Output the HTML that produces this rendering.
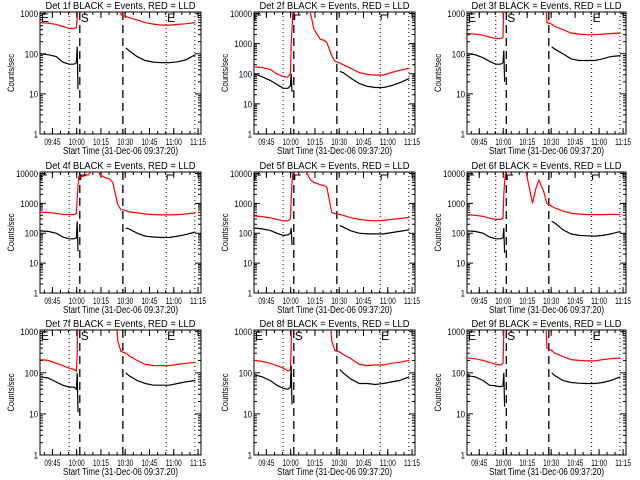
<!DOCTYPE html>
<html><head><meta charset="utf-8"><style>
html,body{margin:0;padding:0;background:#fff;}
svg{display:block;font-family:"Liberation Sans",sans-serif;}
</style></head><body>
<svg id="c" width="640" height="480" viewBox="0 0 640 480"></svg>
<script>
const times = [0,5,10,14,18,21,22.5,23,23.5,24,26,30,35,37,41,43,45,48,50,53,55,60,65,70,75,80,85,90,96];
const xTickLabels = ["09:45","10:00","10:15","10:30","10:45","11:00","11:15"];
const xTickTimes = [7.67,22.67,37.67,52.67,67.67,82.67,97.67];
const markerTimes = [18,24.6,51.2,78,95.7];
const detNames = ["1f","2f","3f","4f","5f","6f","7f","8f","9f"];
const topDecades = [3,4,3,4,4,4,3,3,3];
const N = null, H = 5e4;
const red1 = [600,580,540,480,430,430,450,800,3000,5000,H,H,H,H,H,H,H,H,950,850,800,700,600,550,520,520,540,560,600];
const blk1 = [100,95,85,62,55,55,60,150,13,N,N,N,N,N,N,N,N,N,N,140,120,85,68,62,60,60,63,70,95];
const red2 = [170,160,140,100,80,78,100,1000,3000,10000,H,H,10000,3000,1400,1300,1100,400,260,230,200,150,110,95,90,90,110,130,150];
const blk2 = [100,80,60,45,33,33,40,100,25,N,N,N,N,N,N,N,N,N,N,120,110,70,48,38,35,35,40,50,70];
const red3 = [320,310,290,260,240,240,260,2000,H,H,H,H,H,H,H,H,H,H,600,550,480,400,330,310,300,300,310,320,330];
const blk3 = [100,95,80,65,55,55,60,120,20,N,N,N,N,N,N,N,N,N,N,150,130,100,75,68,68,68,75,85,90];
const red4 = [500,500,460,430,420,420,460,1500,4000,8000,8000,9000,20000,9000,7000,6500,5000,900,620,580,520,480,440,420,410,410,420,440,480];
const blk4 = [120,115,100,75,65,65,70,250,25,N,N,N,N,N,N,N,N,N,N,150,140,100,80,75,72,72,80,90,110];
const red5 = [380,360,330,290,260,260,300,1500,5000,10000,20000,20000,6000,5000,4200,4000,3500,500,450,430,400,330,290,270,260,270,290,310,340];
const blk5 = [150,140,125,100,85,88,100,150,40,N,N,N,N,N,N,N,N,N,N,180,160,120,100,95,95,95,105,115,130];
const red6 = [420,400,370,320,290,290,320,2000,5000,10000,12000,12000,12000,11000,1000,3000,6000,2500,1000,800,700,550,470,440,420,420,420,430,420];
const blk6 = [120,115,100,75,65,65,70,150,22,N,N,N,N,N,N,N,N,N,N,250,220,130,95,85,82,80,85,95,115];
const red7 = [210,200,170,150,130,120,110,300,H,H,H,H,H,H,H,H,H,600,330,300,260,200,160,150,150,150,160,170,180];
const blk7 = [80,75,60,50,45,45,40,100,11,N,N,N,N,N,N,N,N,N,N,100,85,65,55,50,50,50,55,60,65];
const red8 = [200,190,170,150,130,110,120,400,H,H,H,H,H,H,H,H,H,600,350,320,280,220,160,150,155,155,170,180,200];
const blk8 = [90,80,65,50,42,40,45,150,17,N,N,N,N,N,N,N,N,N,N,120,100,70,55,55,52,55,60,65,80];
const red9 = [230,220,200,180,160,155,170,1000,H,H,H,H,H,H,H,H,H,H,400,350,300,250,210,200,195,195,210,220,230];
const blk9 = [85,80,65,50,48,46,48,100,15,N,N,N,N,N,N,N,N,N,N,100,85,65,58,56,55,55,58,65,80];
const redSeries = [red1,red2,red3,red4,red5,red6,red7,red8,red9];
const blackSeries = [blk1,blk2,blk3,blk4,blk5,blk6,blk7,blk8,blk9];

const NS = "http://www.w3.org/2000/svg";
const svg = document.getElementById('c');
const colLeft=[40,254,467], colRight=[201,415,626], rowTop=[12,172,330], rowBottom=[134,293,455];
const XMAX = 99.5;
function mk(tag, attrs, parent){const e=document.createElementNS(NS,tag);for(const k in attrs)e.setAttribute(k,attrs[k]);(parent||svg).appendChild(e);return e;}

for(let p=0;p<9;p++){
  const r=Math.floor(p/3), c=p%3;
  const L=colLeft[c], R=colRight[c], T=rowTop[r], B=rowBottom[r];
  const dec=topDecades[p];
  const lmax=dec+(dec===3?0.042:0.05);
  const g=mk('g',{});
  
  
  const xs=t=>L+(R-L)*t/XMAX;
  const ys=v=>B-(B-T)*Math.log10(v)/lmax;
  const clip=mk('clipPath',{id:'cp'+p},g);
  mk('rect',{x:L,y:T,width:R-L,height:B-T},clip);
  const ti=mk('text',{x:(L+R)/2,y:T-3,'font-size':'10','text-anchor':'middle',fill:'#000',textLength:150,lengthAdjust:'spacingAndGlyphs'},g);
  ti.textContent='Det '+detNames[p]+' BLACK = Events, RED = LLD';
  
  
  const fr=mk('rect',{x:L,y:T,width:R-L,height:B-T,fill:'none',stroke:'#000','stroke-width':1},g);
  
  
  for(let d=0;d<=dec;d++){
    const y=ys(Math.pow(10,d));
    mk('line',{x1:L,x2:L+6,y1:y,y2:y,stroke:'#000'},g);
    mk('line',{x1:R,x2:R-6,y1:y,y2:y,stroke:'#000'},g);
    const s=String(Math.pow(10,d));
    const tl=mk('text',{x:L-2,y:y+3.5,'font-size':'9','text-anchor':'end',textLength:4.4*s.length,lengthAdjust:'spacingAndGlyphs'},g);
    tl.textContent=s;
    
    
    if(d<dec){for(let m=2;m<10;m++){const ym=ys(m*Math.pow(10,d));
      mk('line',{x1:L,x2:L+3,y1:ym,y2:ym,stroke:'#000'},g);
      mk('line',{x1:R,x2:R-3,y1:ym,y2:ym,stroke:'#000'},g);}}
  }
  for(let i=0;i<xTickTimes.length;i++){
    const x=xs(xTickTimes[i]);
    mk('line',{x1:x,x2:x,y1:B,y2:B-6,stroke:'#000'},g);
    mk('line',{x1:x,x2:x,y1:T,y2:T+6,stroke:'#000'},g);
    const xl=mk('text',{x:x,y:B+11,'font-size':'9','text-anchor':'middle',textLength:16,lengthAdjust:'spacingAndGlyphs'},g);
    xl.textContent=xTickLabels[i];
    
    
  }
  for(let t=2.67;t<XMAX;t+=5){const x=xs(t);
    mk('line',{x1:x,x2:x,y1:B,y2:B-3,stroke:'#000'},g);
    mk('line',{x1:x,x2:x,y1:T,y2:T+3,stroke:'#000'},g);}
  const xt=mk('text',{x:(L+R)/2,y:B+20,'font-size':'10','text-anchor':'middle',textLength:115,lengthAdjust:'spacingAndGlyphs'},g);
  xt.textContent='Start Time (31-Dec-06 09:37:20)';
  
  
  const yt=mk('text',{x:0,y:0,'font-size':'9','text-anchor':'middle',textLength:38,lengthAdjust:'spacingAndGlyphs',transform:'translate('+(L-26)+','+((T+B)/2)+') rotate(-90)'},g);
  yt.textContent='Counts/sec';
  
  
  markerTimes.forEach((t,i)=>{
    const x=xs(t);const dashed=(i===1||i===2);
    const ml=mk('line',{x1:x,x2:x,y1:T,y2:B,stroke:'#000','stroke-width':dashed?1.3:1,'stroke-dasharray':dashed?'8,5':'1,3'},g);
    
    
  });
  const labs=[[0.6,'E'],[markerTimes[1]+0.6,'S'],[markerTimes[3]+0.6,'E']];
  labs.forEach(([t,s])=>{
    const x=xs(t);
    if(dec===3){const m=mk('text',{x:x,y:T+10,'font-size':'12',fill:'#000'},g);m.textContent=s;
      
      }
    else{const m=mk('path',{d:'M'+(x+6)+','+(T+3)+' H'+x+' V'+(T+8),fill:'none',stroke:'#000'},g);
      
      }
  });
  function path(arr){let d='',pen=false;
    for(let i=0;i<times.length;i++){const v=arr[i];
      if(v===null){pen=false;continue;}
      d+=(pen?'L':'M')+xs(times[i]).toFixed(1)+','+ys(v).toFixed(1)+' ';pen=true;}
    return d;}
  const rp=mk('path',{d:path(redSeries[p]),fill:'none',stroke:'#ff0000','stroke-width':1.2,'clip-path':'url(#cp'+p+')'},g);
  
  
  const bp=mk('path',{d:path(blackSeries[p]),fill:'none',stroke:'#000','stroke-width':1.2,'clip-path':'url(#cp'+p+')'},g);
  
  
}
</script>
</body></html>
